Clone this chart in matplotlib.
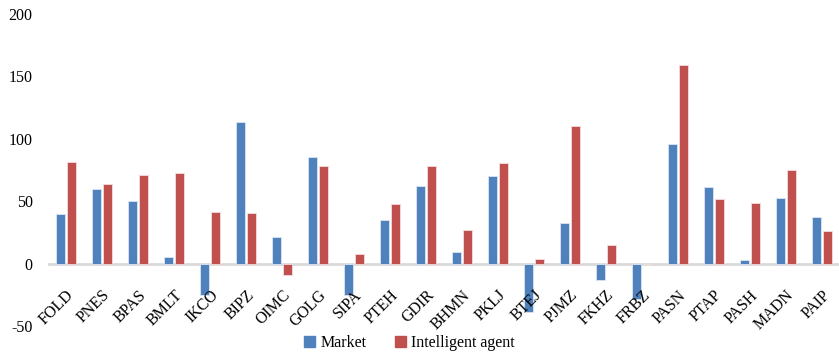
import numpy as np
import matplotlib.pyplot as plt
from matplotlib.patches import Patch

plt.rcParams['font.family'] = ['Liberation Serif', 'DejaVu Serif']
plt.rcParams['axes.unicode_minus'] = False

symbols = ['FOLD', 'PNES', 'BPAS', 'BMLT', 'IKCO', 'BIPZ', 'OIMC', 'GOLG', 'SIPA', 'PTEH', 'GDIR',
           'BHMN', 'PKLJ', 'BTEJ', 'PJMZ', 'FKHZ', 'FRBZ', 'PASN', 'PTAP', 'PASH', 'MADN', 'PAIP']
market = [40, 60, 50, 5, -25.5, 113.5, 21.5, 85.5, -25, 35, 62,
          9.5, 70, -38.5, 32.5, -13.5, -28.5, 96, 61, 2.5, 52.5, 37.5]
agent = [81.5, 64, 71, 72.5, 41.5, 40.5, -9, 78, 7.5, 48, 78,
         27, 80.5, 3.5, 110, 15, 0, 159, 51.5, 48.5, 75, 26]

blue = '#4F81BD'
red = '#C0504D'

fig = plt.figure(figsize=(8.39, 3.54), dpi=100)
ax = fig.add_axes([48 / 839, 28 / 354, 792 / 839, 312 / 354])

x = np.arange(len(symbols))
w = 0.24
off = 0.145
ax.bar(x - off, market, w, color=blue, edgecolor='#dce6f2', linewidth=0.6, zorder=3)
ax.bar(x + off, agent, w, color=red, edgecolor='#f2dcdb', linewidth=0.6, zorder=3)

ax.axhline(0, color='#d9d9d9', lw=2, zorder=2)

ax.set_xlim(-0.5, len(symbols) - 0.5)
ax.set_ylim(-50, 200)
ax.set_yticks([-50, 0, 50, 100, 150, 200])
ax.tick_params(axis='y', length=0, labelsize=11.5, pad=11)
ax.set_xticks([])
for s in ax.spines.values():
    s.set_visible(False)

# category names hang under the zero line, not the bottom of the axes
for i, sym in enumerate(symbols):
    ax.annotate(sym, (i, 0), xytext=(0, -17), textcoords='offset points',
                rotation=45, ha='right', va='top', rotation_mode='anchor', fontsize=11.5)

handles = [Patch(color=blue, label='Market'), Patch(color=red, label='Intelligent agent')]
fig.legend(handles=handles, loc='center', bbox_to_anchor=(0.488, 0.031), ncol=2, frameon=False,
           fontsize=11.5, handlelength=0.7, handleheight=0.7, handletextpad=0.3, columnspacing=1.8)

fig.savefig('out.png', dpi=100)
